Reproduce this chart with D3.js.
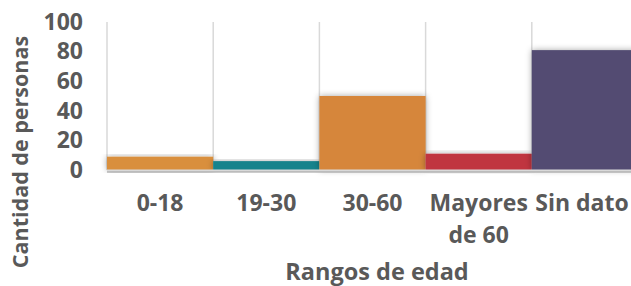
<!DOCTYPE html>
<html>
<head>
<meta charset="utf-8">
<script src="https://cdn.jsdelivr.net/npm/d3@7/dist/d3.min.js"></script>
<style>
  html, body { margin: 0; padding: 0; background: #fff; overflow: hidden; }
  svg { display: block; font-family: "Open Sans", "Noto Sans", sans-serif; font-weight: 700; }
</style>
</head>
<body>
<svg id="chart" width="631" height="286"></svg>
<script>
const categories = ["0-18", "19-30", "30-60", "Mayores de 60", "Sin dato"];
const labelLines = [["0-18"], ["19-30"], ["30-60"], ["Mayores", "de 60"], ["Sin dato"]];
const values = [9, 6, 50, 11, 81];
const colors = ["#D98F3C", "#15838C", "#D6863B", "#C0343F", "#534B72"];
const yTicks = [0, 20, 40, 60, 80, 100];
const yTitle = "Cantidad de personas";
const xTitle = "Rangos de edad";

const svg = d3.select("#chart");
const textColor = "#595959";

const x = d3.scaleBand().domain(categories).range([107, 638]).padding(0);
const y = d3.scaleLinear().domain([0, 100]).range([170, 22]);

const defs = svg.append("defs");
const f = defs.append("filter").attr("id", "shadow")
  .attr("x", "-20%").attr("y", "-20%").attr("width", "140%").attr("height", "140%");
f.append("feDropShadow").attr("dx", 0).attr("dy", 0).attr("stdDeviation", 3)
  .attr("flood-color", "#000").attr("flood-opacity", 0.35);

// vertical gridlines at category boundaries
const bounds = categories.map(c => x(c)).concat([x.range()[1]]);
svg.append("g").selectAll("line").data(bounds).join("line")
  .attr("x1", d => d).attr("x2", d => d)
  .attr("y1", y(100)).attr("y2", y(0))
  .attr("stroke", "#d9d9d9").attr("stroke-width", 1.5);

// bars
svg.append("g").selectAll("rect").data(values).join("rect")
  .attr("x", (d, i) => x(categories[i]))
  .attr("width", x.bandwidth())
  .attr("y", d => y(d))
  .attr("height", d => y(0) - y(d))
  .attr("fill", (d, i) => colors[i])
  .attr("filter", "url(#shadow)");

// x axis line
svg.append("line").attr("x1", 107).attr("x2", 631).attr("y1", y(0) + 0.5).attr("y2", y(0) + 0.5)
  .attr("stroke", "#d9d9d9").attr("stroke-width", 2);
svg.append("line").attr("x1", 107).attr("x2", 631).attr("y1", y(0) + 2).attr("y2", y(0) + 2)
  .attr("stroke", "#9a9a9a").attr("stroke-width", 1);

// y axis tick labels
const yAxis = d3.axisLeft(y).tickValues(yTicks).tickSize(0).tickPadding(0);
const yg = svg.append("g").attr("transform", "translate(83,0)").call(yAxis);
yg.select(".domain").remove();
yg.selectAll("text").attr("fill", textColor).attr("font-size", 23)
  .attr("font-family", "'Open Sans', sans-serif").attr("font-weight", 700);

// x axis labels
const xg = svg.append("g");
categories.forEach((c, i) => {
  const t = xg.append("text")
    .attr("x", x(c) + x.bandwidth() / 2)
    .attr("y", 211)
    .attr("text-anchor", "middle")
    .attr("fill", textColor)
    .attr("font-size", 23);
  labelLines[i].forEach((ln, j) => {
    t.append("tspan").attr("x", Math.min(x(c) + x.bandwidth() / 2, 582)).attr("dy", j === 0 ? 0 : 32).text(ln);
  });
});

// axis titles
svg.append("text")
  .attr("x", 377).attr("y", 280)
  .attr("text-anchor", "middle")
  .attr("fill", textColor).attr("font-size", 23.5)
  .text(xTitle);

svg.append("text")
  .attr("transform", "translate(28,152) rotate(-90)")
  .attr("text-anchor", "middle")
  .attr("fill", textColor).attr("font-size", 21.5)
  .text(yTitle);
</script>
</body>
</html>
